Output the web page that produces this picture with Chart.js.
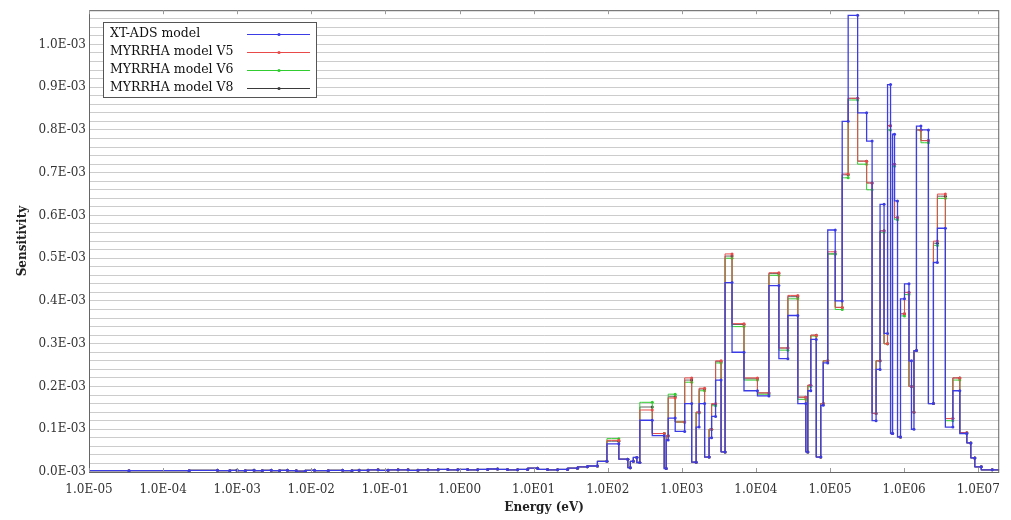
<!DOCTYPE html>
<html>
<head>
<meta charset="utf-8">
<script src="https://cdn.jsdelivr.net/npm/chart.js@4.4.1/dist/chart.umd.min.js"></script>
<style>
  html, body { margin: 0; padding: 0; background: #fff; }
  #wrap { width: 1011px; height: 520px; }
</style>
</head>
<body>
<div id="wrap"><canvas id="sensChart" width="1011" height="520"></canvas></div>
<script>
// group edges in eV (ascending)
const groupEdges = [
  1e-5, 1.2e-4, 4.2e-4, 7e-4, 9e-4, 1.1e-3, 1.5e-3, 1.9e-3, 2.5e-3, 3.3e-3,
  4.2e-3, 5.4e-3, 7.3e-3, 9.4e-3, 1.3e-2, 2.2e-2, 3.2e-2, 3.9e-2, 5e-2, 6.8e-2,
  9.3e-2, 0.127, 0.173, 0.236, 0.32, 0.44, 0.6, 0.81, 1.11, 1.5,
  2.06, 2.8, 3.8, 5.2, 7.1, 9.7, 13.2, 18, 24.6, 33.5,
  45.6, 62, 85, 112,
  178, 196, 208, 236, 259, 284, 561, 597, 635, 676,
  980, 1218, 1513, 1610, 1822, 2263, 2407, 2642, 3085, 3715,
  3953, 5730, 8310, 13230, 16950, 24580, 29600, 45650, 48600, 51700,
  58530, 72670, 77320, 84870, 102200, 135100, 157700, 195800, 284000, 342100,
  399400, 438200, 511700, 561600, 635600, 676200, 719500, 765500, 866200, 921600,
  1.11e6, 1.218e6, 1.296e6, 1.422e6, 1.513e6, 1.879e6, 2.408e6, 2.563e6, 3.085e6, 4.206e6,
  4.911e6, 6.492e6, 7.577e6, 8.314e6, 9.707e6, 1.243e7, 1.92e7
];

// sensitivity in units of 1E-03, groups below 112 eV (same for all models)
const thermalSens = [
  0.003, 0.003, 0.004, 0.003, 0.004, 0.003, 0.004, 0.003, 0.004, 0.003,
  0.004, 0.003, 0.002, 0.004, 0.003, 0.004, 0.003, 0.004, 0.004, 0.005,
  0.004, 0.005, 0.005, 0.004, 0.005, 0.005, 0.006, 0.005, 0.006, 0.005,
  0.006, 0.007, 0.006, 0.005, 0.006, 0.009, 0.006, 0.005, 0.006, 0.009,
  0.012, 0.014, 0.025
];

// groups from 112 eV up, units of 1E-03
const xtadsFast = [
  0.066, 0.030, 0.010, 0.025, 0.034, 0.022, 0.121, 0.085, 0.008, 0.075,
  0.126, 0.095, 0.160, 0.023, 0.105, 0.160, 0.035, 0.080, 0.130, 0.215,
  0.047, 0.443, 0.280, 0.190, 0.178, 0.436, 0.265, 0.366, 0.160, 0.047,
  0.190, 0.310, 0.035, 0.156, 0.255, 0.566, 0.400, 0.820, 1.068, 0.840,
  0.774, 0.120, 0.240, 0.626, 0.324, 0.906, 0.090, 0.790, 0.634, 0.082,
  0.405, 0.440, 0.260, 0.100, 0.284, 0.809, 0.800, 0.160, 0.490, 0.570,
  0.105, 0.190, 0.090, 0.068, 0.033, 0.012, 0.005
];
const v5Fast = [
  0.074, 0.030, 0.010, 0.025, 0.034, 0.022, 0.145, 0.090, 0.008, 0.085,
  0.173, 0.117, 0.220, 0.023, 0.140, 0.196, 0.035, 0.100, 0.160, 0.260,
  0.047, 0.510, 0.347, 0.220, 0.185, 0.466, 0.290, 0.413, 0.175, 0.047,
  0.203, 0.320, 0.035, 0.160, 0.260, 0.515, 0.385, 0.697, 0.874, 0.727,
  0.676, 0.137, 0.260, 0.564, 0.300, 0.810, 0.090, 0.720, 0.595, 0.082,
  0.370, 0.420, 0.200, 0.140, 0.284, 0.800, 0.775, 0.160, 0.540, 0.650,
  0.125, 0.220, 0.092, 0.068, 0.033, 0.012, 0.005
];
const v6Fast = [
  0.078, 0.030, 0.010, 0.025, 0.034, 0.022, 0.163, 0.090, 0.008, 0.085,
  0.182, 0.117, 0.210, 0.023, 0.138, 0.190, 0.035, 0.100, 0.155, 0.255,
  0.047, 0.500, 0.340, 0.215, 0.182, 0.460, 0.285, 0.405, 0.170, 0.047,
  0.200, 0.318, 0.035, 0.160, 0.260, 0.510, 0.380, 0.688, 0.870, 0.720,
  0.660, 0.137, 0.260, 0.560, 0.300, 0.800, 0.090, 0.715, 0.590, 0.082,
  0.365, 0.415, 0.200, 0.140, 0.284, 0.800, 0.770, 0.160, 0.530, 0.640,
  0.120, 0.215, 0.090, 0.068, 0.033, 0.012, 0.005
];
const v8Fast = [
  0.072, 0.030, 0.010, 0.025, 0.034, 0.022, 0.152, 0.090, 0.008, 0.085,
  0.176, 0.117, 0.215, 0.023, 0.140, 0.194, 0.035, 0.100, 0.158, 0.258,
  0.047, 0.505, 0.345, 0.218, 0.185, 0.464, 0.290, 0.410, 0.175, 0.047,
  0.203, 0.320, 0.035, 0.160, 0.260, 0.510, 0.385, 0.695, 0.874, 0.727,
  0.676, 0.137, 0.260, 0.564, 0.300, 0.810, 0.090, 0.720, 0.595, 0.082,
  0.370, 0.420, 0.200, 0.140, 0.284, 0.800, 0.775, 0.160, 0.535, 0.645,
  0.125, 0.220, 0.092, 0.068, 0.033, 0.012, 0.005
];

const seriesNames = ['XT-ADS model', 'MYRRHA model V5', 'MYRRHA model V6', 'MYRRHA model V8'];
const seriesColors = ['#3c3ce6', '#e84a4a', '#30cc30', '#3a3a3a'];
const seriesWidths = [1.3, 1, 1, 0.8];

const xTickValues = [1e-5, 1e-4, 1e-3, 1e-2, 1e-1, 1e0, 1e1, 1e2, 1e3, 1e4, 1e5, 1e6, 1e7];
const xTickLabels = ['1.0E-05', '1.0E-04', '1.0E-03', '1.0E-02', '1.0E-01', '1.0E00', '1.0E01',
  '1.0E02', '1.0E03', '1.0E04', '1.0E05', '1.0E06', '1.0E07'];
const yTickLabels = ['0.0E-03', '0.1E-03', '0.2E-03', '0.3E-03', '0.4E-03', '0.5E-03',
  '0.6E-03', '0.7E-03', '0.8E-03', '0.9E-03', '1.0E-03'];

const FONT = "'DejaVu Serif', 'Liberation Serif', serif";

// step points: group start, group midpoint (marker), ... , last edge
function stepPoints(vals) {
  const pts = [];
  for (let i = 0; i < vals.length; i++) {
    const a = groupEdges[i], b = groupEdges[i + 1];
    pts.push({ x: a, y: vals[i] });
    pts.push({ x: Math.sqrt(a * b), y: vals[i], mid: true });
  }
  pts.push({ x: groupEdges[groupEdges.length - 1], y: vals[vals.length - 1] });
  return pts;
}

const allSeries = [xtadsFast, v5Fast, v6Fast, v8Fast].map(f => thermalSens.concat(f));

const datasets = allSeries.map((vals, i) => ({
  label: seriesNames[i],
  data: stepPoints(vals),
  stepped: 'after',
  borderColor: seriesColors[i],
  backgroundColor: seriesColors[i],
  borderWidth: seriesWidths[i],
  pointRadius: ctx => (ctx.raw && ctx.raw.mid ? 1.5 : 0),
  pointBorderWidth: 0,
  pointHoverRadius: 0,
  fill: false
}));

// frame, inner decade ticks and legend box
const framePlugin = {
  id: 'frame',
  afterDraw(chart) {
    const { ctx, chartArea: a, scales } = chart;
    ctx.save();
    ctx.strokeStyle = '#666';
    ctx.lineWidth = 1;
    ctx.strokeRect(a.left + 0.5, a.top + 0.5, a.right - a.left - 1, a.bottom - a.top);
    ctx.strokeStyle = '#999';
    xTickValues.forEach(v => {
      const px = Math.round(scales.x.getPixelForValue(v)) + 0.5;
      ctx.beginPath();
      ctx.moveTo(px, a.bottom); ctx.lineTo(px, a.bottom - 4);
      ctx.moveTo(px, a.top); ctx.lineTo(px, a.top + 4);
      ctx.stroke();
    });

    // legend
    const bx = 103, by = 22, bw = 213, bh = 75;
    ctx.fillStyle = '#fff';
    ctx.fillRect(bx, by, bw, bh);
    ctx.strokeStyle = '#555';
    ctx.strokeRect(bx + 0.5, by + 0.5, bw, bh);
    ctx.font = '12.5px ' + FONT;
    ctx.textBaseline = 'middle';
    chart.data.datasets.forEach((ds, i) => {
      const y = by + 12 + i * 18;
      ctx.fillStyle = '#111';
      ctx.fillText(ds.label, bx + 7, y);
      ctx.strokeStyle = ds.borderColor;
      ctx.beginPath();
      ctx.moveTo(bx + 144, y + 0.5); ctx.lineTo(bx + 207, y + 0.5);
      ctx.stroke();
      ctx.fillStyle = ds.borderColor;
      ctx.beginPath();
      ctx.arc(bx + 176, y + 0.5, 1.6, 0, Math.PI * 2);
      ctx.fill();
    });
    ctx.restore();
  }
};

new Chart(document.getElementById('sensChart'), {
  type: 'line',
  data: { datasets },
  options: {
    responsive: false,
    animation: false,
    events: [],
    layout: { padding: { top: 9, right: 9, left: 0, bottom: 0 } },
    plugins: { legend: { display: false }, tooltip: { enabled: false } },
    scales: {
      x: {
        type: 'logarithmic',
        min: 1e-5,
        max: 1.92e7,
        afterBuildTicks: s => { s.ticks = xTickValues.map(v => ({ value: v })); },
        afterFit: s => { s.height = 48; },
        grid: { display: false, drawTicks: false },
        border: { display: false },
        ticks: {
          autoSkip: false,
          maxRotation: 0,
          padding: 11,
          color: '#333',
          font: { family: FONT, size: 12 },
          callback: (v, i) => xTickLabels[i]
        },
        title: {
          display: true,
          text: 'Energy (eV)',
          color: '#222',
          font: { family: FONT, size: 12, weight: 'bold' },
          padding: { top: 0, bottom: 5 }
        }
      },
      y: {
        min: 0,
        max: 1.08,
        afterBuildTicks: s => {
          const t = [];
          for (let i = 0; i <= 54; i++) t.push({ value: i * 0.02 });
          s.ticks = t;
        },
        afterFit: s => { s.width = 89; },
        grid: { color: '#cccccc', lineWidth: 1, drawTicks: false },
        border: { display: false },
        ticks: {
          autoSkip: false,
          padding: 3,
          color: '#333',
          font: { family: FONT, size: 12 },
          callback: (v, i) => (i % 5 === 0 ? yTickLabels[i / 5] : '')
        },
        title: {
          display: true,
          text: 'Sensitivity',
          color: '#222',
          font: { family: FONT, size: 12, weight: 'bold' },
          padding: { top: 16, bottom: 0 }
        }
      }
    }
  },
  plugins: [framePlugin]
});
</script>
</body>
</html>
